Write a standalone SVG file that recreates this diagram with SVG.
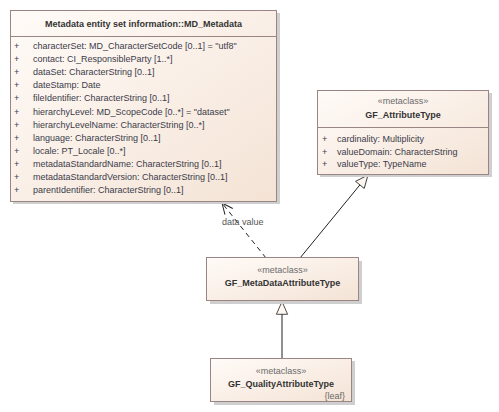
<svg xmlns="http://www.w3.org/2000/svg" width="499" height="412" viewBox="0 0 499 412">
<style>
.box{fill:url(#g);stroke:#9a8585;stroke-width:1}
.sh{fill:#cfcfcf}
.div{stroke:#9a8585;stroke-width:1}
text{font-family:"Liberation Sans",Arial,sans-serif;font-size:9px;fill:#3b3b4a}
.t{font-weight:bold;text-anchor:middle;fill:#333}
.st{text-anchor:middle;fill:#6b6b6b}
.lbl{fill:#555}
.con{fill:none;stroke:#222;stroke-width:1}
</style>
<defs>
<linearGradient id="g" x1="0" y1="0" x2="1" y2="1">
<stop offset="0" stop-color="#fffbf8"/>
<stop offset="1" stop-color="#f4e3d5"/>
</linearGradient>
<marker id="open" markerUnits="userSpaceOnUse" markerWidth="20" markerHeight="20" refX="0" refY="0" viewBox="-15 -10 20 20" orient="auto" overflow="visible">
<path d="M-11,-5 L0,0 L-11,5" fill="none" stroke="#222" stroke-width="1"/>
</marker>
<marker id="gen" markerUnits="userSpaceOnUse" markerWidth="20" markerHeight="20" refX="0" refY="0" viewBox="-20 -10 25 20" orient="auto" overflow="visible">
<path d="M0,0 L-16,-7 L-16,7 Z" fill="#fdf6f1" stroke="#222" stroke-width="1"/>
</marker>
</defs>
<rect width="499" height="412" fill="#fff"/>

<g id="connectors">
<path class="con" d="M266,258 L222,203" stroke-dasharray="5,4" marker-end="url(#open)"/>
<text class="lbl" x="222" y="225">data value</text>
<path class="con" d="M300,258 L368,175" marker-end="url(#gen)"/>
<path class="con" d="M282,358 L282,301.5" marker-end="url(#gen)"/>
</g>

<g id="MD_Metadata">
<rect class="sh" x="13" y="13" width="267" height="191"/>
<rect class="box" x="10.5" y="10.5" width="266" height="191"/>
<line class="div" x1="10.5" y1="36.5" x2="276.5" y2="36.5"/>
<text class="t" x="143.5" y="26.5">Metadata entity set information::MD_Metadata</text>
<g>
<text x="14" y="49">+</text><text x="33" y="49">characterSet: MD_CharacterSetCode [0..1] = "utf8"</text>
<text x="14" y="62.1">+</text><text x="33" y="62.1">contact: CI_ResponsibleParty [1..*]</text>
<text x="14" y="75.2">+</text><text x="33" y="75.2">dataSet: CharacterString [0..1]</text>
<text x="14" y="88.3">+</text><text x="33" y="88.3">dateStamp: Date</text>
<text x="14" y="101.4">+</text><text x="33" y="101.4">fileIdentifier: CharacterString [0..1]</text>
<text x="14" y="114.5">+</text><text x="33" y="114.5">hierarchyLevel: MD_ScopeCode [0..*] = "dataset"</text>
<text x="14" y="127.6">+</text><text x="33" y="127.6">hierarchyLevelName: CharacterString [0..*]</text>
<text x="14" y="140.7">+</text><text x="33" y="140.7">language: CharacterString [0..1]</text>
<text x="14" y="153.8">+</text><text x="33" y="153.8">locale: PT_Locale [0..*]</text>
<text x="14" y="166.9">+</text><text x="33" y="166.9">metadataStandardName: CharacterString [0..1]</text>
<text x="14" y="180">+</text><text x="33" y="180">metadataStandardVersion: CharacterString [0..1]</text>
<text x="14" y="193.1">+</text><text x="33" y="193.1">parentIdentifier: CharacterString [0..1]</text>
</g>
</g>

<g id="GF_AttributeType">
<rect class="sh" x="320" y="93" width="172" height="84"/>
<rect class="box" x="317.5" y="90.5" width="171" height="84"/>
<line class="div" x1="317.5" y1="127.5" x2="488.5" y2="127.5"/>
<text class="st" x="403" y="104">«metaclass»</text>
<text class="t" x="403" y="118">GF_AttributeType</text>
<text x="322" y="142">+</text><text x="337" y="142">cardinality: Multiplicity</text>
<text x="322" y="154.5">+</text><text x="337" y="154.5">valueDomain: CharacterString</text>
<text x="322" y="167">+</text><text x="337" y="167">valueType: TypeName</text>
</g>

<g id="GF_MetaDataAttributeType">
<rect class="sh" x="210" y="261" width="152" height="43"/>
<rect class="box" x="206.5" y="257.5" width="152" height="43"/>
<text class="st" x="282.5" y="273">«metaclass»</text>
<text class="t" x="282.5" y="286">GF_MetaDataAttributeType</text>
</g>

<g id="GF_QualityAttributeType">
<rect class="sh" x="214" y="361" width="141" height="44"/>
<rect class="box" x="210.5" y="358.5" width="141" height="43"/>
<text class="st" x="281" y="374">«metaclass»</text>
<text class="t" x="281" y="387">GF_QualityAttributeType</text>
<text class="st" x="345" y="399" style="text-anchor:end">{leaf}</text>
</g>
</svg>
